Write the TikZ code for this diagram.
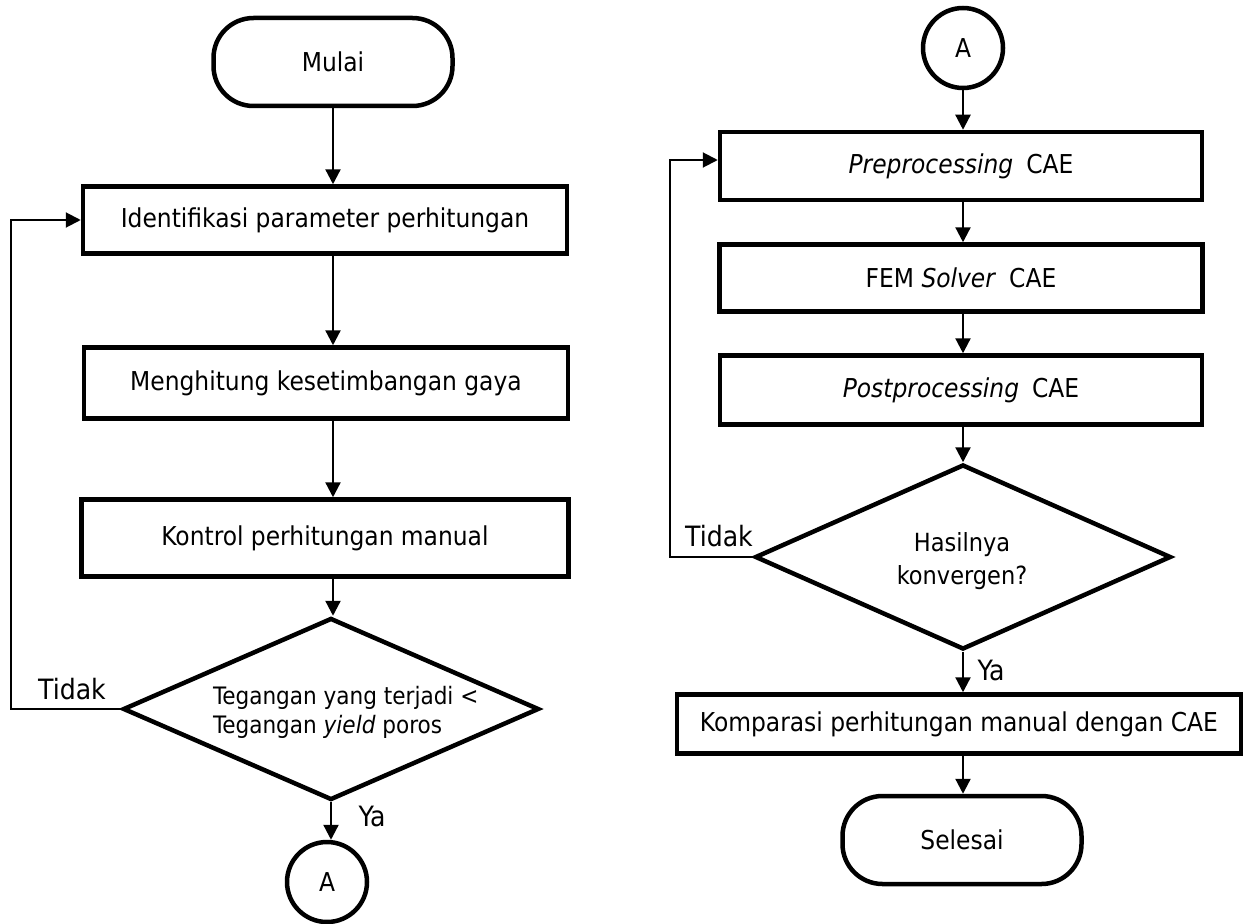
\documentclass[tikz,border=0pt]{standalone}
\usepackage{fontspec}
\setmainfont{DejaVu Sans Condensed}[ItalicFont={DejaVu Sans Condensed Oblique}]
\usetikzlibrary{shapes.geometric,arrows.meta}
\begin{document}
\begin{tikzpicture}[x=1pt,y=-1pt,
  every node/.style={font=\fontsize{26}{31}\selectfont},
  box/.style={draw, line width=4.5pt, rectangle, inner sep=0pt},
  term/.style={draw, line width=4.5pt, rectangle, rounded corners=40pt, minimum width=239pt, minimum height=88pt, inner sep=0pt},
  conn/.style={draw, line width=4.5pt, circle, minimum size=80pt, inner sep=0pt},
  decision/.style={draw, line width=4.5pt, diamond, inner sep=0pt},
  plain/.style={inner sep=0pt, font=\fontsize{28}{33}\selectfont},
  dtext/.style={inner sep=0pt, font=\fontsize{24}{29}\selectfont},
  arr/.style={line width=2.3pt, -{Triangle[length=15pt,width=15pt]}},
  fbarr/.style={line width=2pt, -{Triangle[length=15pt,width=15pt]}}
]
\useasboundingbox (0,0) rectangle (1244,923);

% left column
\node[term] (mulai) at (333,62) {Mulai};
\node[box, minimum width=484pt, minimum height=67pt] (ident) at (325,220) {Identifikasi parameter perhitungan};
\node[box, minimum width=484pt, minimum height=71pt] (hitung) at (326,383) {Menghitung kesetimbangan gaya};
\node[box, minimum width=487pt, minimum height=77pt] (kontrol) at (325,538) {Kontrol perhitungan manual};
\node[decision, minimum width=416pt, minimum height=182pt] (d1) at (331,709) {};
\node[dtext, anchor=west, align=left] (d1t) at (213,712) {Tegangan yang terjadi <\\Tegangan \textit{yield} poros};
\node[conn] (a1) at (327,882) {A};
\node[plain] (tidak1) at (72,689) {Tidak};
\node[plain] (ya1) at (372,816) {Ya};

% right column
\node[conn] (a2) at (963,48) {A};
\node[box, minimum width=482pt, minimum height=68pt] (pre) at (961,166) {\textit{Preprocessing}\enspace CAE};
\node[box, minimum width=483pt, minimum height=67pt] (fem) at (961,278) {FEM \textit{Solver}\enspace CAE};
\node[box, minimum width=482pt, minimum height=69pt] (post) at (961,390) {\textit{Postprocessing}\enspace CAE};
\node[decision, minimum width=416pt, minimum height=185pt] (d2) at (963,557) {};
\node[dtext, align=center, font=\fontsize{25}{33}\selectfont] (d2t) at (962,561) {Hasilnya\\konvergen?};
\node[box, minimum width=564pt, minimum height=59pt] (komp) at (959,724) {Komparasi perhitungan manual dengan CAE};
\node[term] (selesai) at (962,840) {Selesai};
\node[plain] (tidak2) at (719,536) {Tidak};
\node[plain] (ya2) at (991,670) {Ya};

% left connectors
\draw[arr] (mulai.south) -- (mulai.south |- ident.north);
\draw[arr] (mulai.south |- ident.south) -- (mulai.south |- hitung.north);
\draw[arr] (mulai.south |- hitung.south) -- (mulai.south |- kontrol.north);
\draw[arr] (mulai.south |- kontrol.south) -- (mulai.south |- d1.north);
\draw[arr] (d1.south) -- (d1.south |- a1.north);
\coordinate (fbL) at (11,709);
\draw[fbarr] (d1.west) -- (fbL) |- (ident.west);

% right connectors
\draw[arr] (a2.south) -- (a2.south |- pre.north);
\draw[arr] (a2.south |- pre.south) -- (a2.south |- fem.north);
\draw[arr] (a2.south |- fem.south) -- (a2.south |- post.north);
\draw[arr] (a2.south |- post.south) -- (a2.south |- d2.north);
\draw[arr] (d2.south) -- (d2.south |- komp.north);
\draw[arr] (d2.south |- komp.south) -- (d2.south |- selesai.north);
\coordinate (fbR) at (670,557);
\coordinate (preIn) at ([yshift=6pt]pre.west);
\draw[fbarr] (d2.west) -- (fbR) |- (preIn);
\end{tikzpicture}
\end{document}
